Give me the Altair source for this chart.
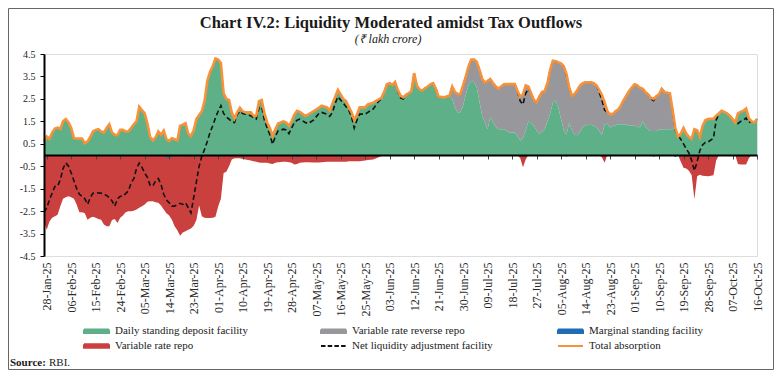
import altair as alt
import pandas as pd

SERIF = "Liberation Serif"

# ---------------- data (₹ lakh crore) ----------------
# day offsets counted from 28-Jan-2025
days_since_28jan = [
    -1, 0, 1, 2, 3, 4, 5, 6, 7, 8,
    9, 10, 11, 12, 13, 14, 15, 16, 17, 18,
    19, 20, 21, 22, 23, 24, 25, 26, 27, 28,
    29, 30, 31, 32, 33, 34, 35, 36, 37, 38,
    39, 40, 41, 42, 43, 44, 45, 46, 47, 48,
    49, 50, 51, 52, 53, 54, 55, 56, 57, 58,
    59, 60, 61, 62, 63, 64, 65, 66, 67, 68,
    69, 70, 71, 72, 73, 75, 76, 77, 78, 79,
    80, 81, 82, 83, 84, 85, 87, 88, 89, 90,
    91, 92, 93, 95, 96, 98, 100, 101, 103, 104,
    105, 106, 107, 108, 109, 110, 111, 112, 113, 114,
    115, 117, 118, 120, 122, 123, 124, 125, 126, 127,
    128, 129, 130, 131, 132, 133, 134, 135, 136, 137,
    138, 139, 140, 141, 142, 143, 144, 146, 148, 149,
    150, 151, 152, 153, 154, 155, 156, 157, 158, 159,
    160, 161, 162, 163, 164, 165, 166, 167, 168, 170,
    172, 173, 174, 175, 176, 177, 178, 179, 180, 181,
    182, 183, 184, 185, 186, 187, 188, 189, 190, 191,
    192, 193, 194, 195, 196, 197, 198, 200, 201, 202,
    203, 204, 205, 206, 207, 208, 209, 210, 211, 212,
    213, 214, 215, 216, 217, 218, 219, 220, 221, 222,
    223, 224, 225, 226, 227, 229, 230, 231, 232, 233,
    234, 235, 236, 237, 238, 239, 240, 241, 242, 243,
    245, 246, 247, 248, 249, 250, 251, 252, 253, 254,
    255, 256, 257, 258, 259, 260, 261,
]

total_absorption = [
    0.60, 0.82, 0.72, 1.00, 1.18, 1.22, 1.15, 1.50, 1.60, 1.45,
    1.20, 0.75, 0.73, 0.73, 0.73, 0.52, 0.60, 0.80, 1.05, 1.12,
    1.15, 1.05, 1.00, 1.20, 1.37, 1.00, 0.90, 0.88, 1.12, 1.12,
    1.05, 1.05, 1.20, 1.37, 1.50, 2.15, 2.00, 1.85, 1.40, 0.80,
    0.65, 0.78, 1.05, 0.90, 1.08, 0.70, 0.63, 0.75, 0.70, 0.65,
    1.30, 1.35, 1.42, 0.95, 0.85, 1.10, 1.60, 1.78, 1.95, 2.40,
    3.30, 3.70, 3.95, 4.30, 4.25, 4.10, 2.75, 2.50, 2.45, 1.90,
    1.62, 1.90, 2.10, 1.95, 1.90, 1.90, 1.75, 1.75, 2.40, 2.45,
    1.85, 1.45, 1.20, 0.85, 1.15, 1.40, 1.50, 1.45, 1.30, 1.50,
    1.80, 1.97, 1.92, 1.75, 1.80, 1.95, 2.10, 2.20, 2.12, 1.98,
    2.30, 2.60, 2.90, 2.70, 2.50, 2.40, 2.15, 1.90, 1.55, 1.80,
    2.12, 2.12, 2.25, 2.33, 2.48, 2.55, 2.80, 3.15, 3.20, 3.12,
    3.25, 2.90, 2.65, 2.57, 2.68, 2.75, 2.85, 3.65, 3.10, 2.92,
    2.87, 2.97, 3.05, 3.15, 3.20, 2.95, 2.60, 2.57, 2.64, 3.05,
    2.80, 2.72, 2.72, 3.10, 3.50, 3.95, 4.25, 4.25, 4.15, 3.80,
    3.40, 3.22, 3.30, 3.38, 3.20, 3.05, 2.95, 3.05, 3.15, 3.16,
    3.16, 2.85, 2.60, 2.70, 3.10, 3.05, 2.75, 2.45, 2.35, 2.60,
    2.80, 2.85, 3.20, 3.80, 4.20, 4.18, 4.12, 4.08, 3.95, 3.60,
    3.00, 2.64, 2.72, 2.90, 3.10, 3.20, 3.24, 3.24, 3.20, 3.10,
    2.90, 2.68, 2.35, 1.95, 1.82, 1.82, 1.95, 2.02, 2.20, 2.45,
    2.64, 2.85, 3.00, 3.15, 3.10, 3.00, 2.95, 2.80, 2.70, 2.55,
    2.50, 2.62, 2.70, 2.95, 2.80, 2.75, 2.00, 1.20, 0.82, 0.95,
    1.20, 0.95, 0.80, 0.72, 1.15, 1.10, 0.80, 1.30, 1.55, 1.60,
    1.62, 1.75, 1.85, 1.97, 1.92, 1.85, 1.75, 1.60, 1.45, 1.85,
    1.92, 1.97, 2.07, 1.65, 1.50, 1.45, 1.60,
]

variable_rate_reverse_repo = [
    0, 0, 0, 0, 0, 0, 0, 0, 0, 0,
    0, 0, 0, 0, 0, 0, 0, 0, 0, 0,
    0, 0, 0, 0, 0, 0, 0, 0, 0, 0,
    0, 0, 0, 0, 0, 0, 0, 0, 0, 0,
    0, 0, 0, 0, 0, 0, 0, 0, 0, 0,
    0, 0, 0, 0, 0, 0, 0, 0, 0, 0,
    0, 0, 0, 0, 0, 0, 0, 0, 0, 0,
    0, 0, 0, 0, 0, 0, 0, 0, 0, 0,
    0, 0, 0, 0, 0, 0, 0, 0, 0, 0,
    0, 0, 0, 0, 0, 0, 0, 0, 0, 0,
    0, 0, 0, 0, 0, 0, 0, 0, 0, 0,
    0, 0, 0, 0, 0, 0, 0, 0, 0, 0,
    0, 0, 0, 0, 0, 0, 0, 0, 0, 0,
    0, 0, 0, 0, 0, 0, 0, 0, 0, 0.55,
    0.70, 0.82, 0.82, 0.90, 0.80, 0.85, 0.95, 1.01, 1.13, 1.40,
    1.65, 1.77, 2.15, 1.68, 1.75, 1.80, 1.80, 1.90, 2.00, 2.16,
    2.16, 2.00, 1.95, 1.95, 2.00, 1.55, 1.35, 1.15, 1.25, 1.67,
    1.75, 1.70, 1.70, 1.95, 1.86, 1.76, 2.02, 2.48, 2.85, 2.70,
    1.55, 1.54, 1.82, 2.02, 2.05, 1.95, 1.92, 1.89, 1.90, 1.85,
    1.83, 1.80, 1.00, 0.55, 0.60, 0.54, 0.63, 0.65, 0.83, 1.08,
    1.29, 1.55, 1.70, 1.85, 1.83, 1.78, 1.45, 1.55, 1.55, 1.48,
    1.43, 1.55, 1.58, 1.80, 1.65, 1.60, 0.85, 0, 0, 0,
    0, 0, 0, 0, 0, 0, 0, 0, 0, 0,
    0, 0, 0, 0, 0, 0, 0, 0, 0, 0,
    0, 0, 0, 0, 0, 0, 0,
]

variable_rate_repo = [
    -3.00, -3.33, -2.96, -2.80, -2.73, -2.66, -2.28, -1.95, -1.88, -1.84,
    -1.88, -1.95, -2.20, -2.55, -2.55, -2.60, -2.88, -2.80, -2.75, -2.80,
    -2.85, -2.88, -3.10, -3.18, -3.18, -2.90, -2.85, -3.03, -2.80, -2.70,
    -2.55, -2.51, -2.51, -2.48, -2.43, -2.35, -2.28, -2.20, -2.08, -2.06,
    -2.06, -2.10, -2.13, -2.25, -2.43, -2.60, -2.70, -2.88, -3.18, -3.35,
    -3.60, -3.45, -3.40, -3.33, -3.28, -3.15, -2.90, -2.25, -2.73, -2.80,
    -2.81, -2.81, -2.80, -2.75, -2.30, -1.95, -0.80, -0.75, -0.50, -0.20,
    -0.15, -0.15, -0.15, -0.18, -0.20, -0.25, -0.28, -0.30, -0.33, -0.35,
    -0.35, -0.35, -0.38, -0.40, -0.35, -0.32, -0.30, -0.30, -0.32, -0.35,
    -0.42, -0.40, -0.35, -0.32, -0.32, -0.33, -0.33, -0.32, -0.30, -0.30,
    -0.30, -0.30, -0.30, -0.30, -0.30, -0.30, -0.28, -0.28, -0.28, -0.28,
    -0.28, -0.25, -0.22, -0.20, -0.10, -0.05, 0, 0, 0, 0,
    0, 0, 0, 0, 0, 0, 0, 0, 0, 0,
    0, 0, 0, 0, 0, 0, 0, 0, 0, 0,
    0, 0, 0, 0, 0, 0, 0, 0, 0, 0,
    0, 0, 0, 0, 0, 0, 0, 0, 0, 0,
    0, 0, -0.15, -0.55, -0.20, 0, 0, 0, 0, 0,
    0, 0, 0, 0, 0, 0, 0, 0, 0, 0,
    0, 0, 0, 0, 0, 0, 0, 0, 0, 0,
    0, -0.10, -0.35, 0, 0, 0, 0, 0, 0, 0,
    0, 0, 0, 0, 0, 0, 0, 0, 0, 0,
    0, 0, 0, 0, 0, 0, 0, 0, 0, -0.30,
    -0.57, -0.60, -0.70, -0.90, -1.97, -0.95, -0.88, -0.92, -0.94, -0.95,
    -0.90, -0.25, 0, 0, 0, 0, 0, 0, 0, -0.40,
    -0.42, -0.42, -0.42, -0.15, 0, 0, 0,
]

marginal_standing_facility = [
    0, 0, 0, 0, 0, 0, 0, 0, 0, -0.04,
    -0.05, -0.05, 0, 0, 0, 0, 0, 0, 0, 0,
    0, 0, 0, 0, 0, 0, 0, 0, 0, 0,
    0, 0, 0, 0, 0, 0, 0, 0, 0, 0,
    0, 0, 0, 0, 0, -0.10, -0.12, -0.08, 0, 0,
    0, 0, 0, -0.08, 0, 0, 0, 0, 0, 0,
    0, 0, 0, 0, 0, 0, 0, 0, 0, 0,
    0, 0, 0, 0, 0, 0, 0, 0, 0, 0,
    0, 0, 0, 0, 0, 0, 0, 0, 0, 0,
    0, -0.12, 0, 0, 0, 0, 0, 0, 0, 0,
    0, 0, 0, 0, 0, 0, 0, 0, 0, 0,
    0, 0, 0, 0, 0, 0, 0, 0, 0, 0,
    0, 0, 0, 0, 0, 0, 0, 0, 0, 0,
    0, 0, 0, 0, 0, 0, 0, 0, 0, 0,
    0, 0, 0, 0, 0, 0, 0, 0, 0, 0,
    0, 0, 0, 0, 0, 0, 0, 0, 0, 0,
    0, 0, 0, -0.10, 0, 0, 0, 0, 0, 0,
    0, 0, 0, 0, 0, 0, 0, 0, 0, -0.08,
    0, 0, 0, 0, 0, 0, 0, 0, 0, 0,
    0, 0, 0, 0, 0, 0, 0, 0, 0, 0,
    0, 0, 0, 0, 0, 0, 0, 0, 0, 0,
    -0.08, 0, 0, 0, 0, 0, 0, -0.10, 0, 0,
    0, 0, 0, 0, 0, 0, 0, 0, 0, 0,
    0, 0, 0, 0, 0, 0, 0, 0, 0, -0.08,
    0, 0, 0, -0.08, 0, 0, 0,
]

net_liquidity_adjustment_facility = [
    -2.55, -2.36, -2.00, -1.69, -1.40, -1.39, -1.10, -0.60, -0.35, -0.50,
    -0.80, -1.15, -1.50, -1.75, -1.84, -1.95, -2.20, -1.90, -1.70, -1.68,
    -1.69, -1.70, -1.75, -1.80, -1.90, -2.05, -2.28, -1.95, -1.84, -1.84,
    -1.72, -1.60, -1.25, -1.05, -0.60, -0.36, -0.55, -0.80, -1.00, -1.35,
    -1.39, -1.15, -1.05, -1.31, -1.75, -2.00, -2.13, -2.28, -2.28, -2.20,
    -2.15, -2.20, -2.13, -2.35, -2.58, -1.90, -1.20, -0.50, -0.05, 0.25,
    0.60, 1.00, 1.30, 1.65, 1.95, 2.20, 1.85, 1.70, 1.60, 1.48,
    1.45, 1.80, 1.95, 1.85, 1.82, 1.75, 1.67, 1.60, 2.10, 2.15,
    1.55, 1.20, 0.90, 0.48, 0.82, 1.07, 1.15, 1.12, 0.95, 1.20,
    1.45, 1.55, 1.60, 1.45, 1.40, 1.55, 1.85, 1.90, 1.82, 1.72,
    1.90, 2.30, 2.60, 2.45, 2.30, 2.15, 2.00, 1.70, 1.20, 1.55,
    1.82, 1.82, 1.90, 2.05, 2.40, 2.50, 2.80, 3.15, 3.20, 3.12,
    3.25, 2.85, 2.55, 2.50, 2.68, 2.75, 2.85, 3.65, 3.10, 2.92,
    2.87, 2.97, 3.05, 3.15, 3.20, 2.95, 2.60, 2.57, 2.64, 3.05,
    2.80, 2.72, 2.72, 3.10, 3.50, 3.95, 4.25, 4.25, 4.15, 3.80,
    3.40, 3.22, 3.30, 3.38, 3.20, 3.05, 2.95, 3.05, 3.15, 3.16,
    3.16, 2.85, 2.40, 2.25, 2.75, 2.95, 2.75, 2.45, 2.35, 2.60,
    2.80, 2.85, 3.20, 3.80, 4.20, 4.18, 4.12, 4.08, 3.95, 3.52,
    3.00, 2.64, 2.72, 2.90, 3.10, 3.20, 3.24, 3.24, 3.20, 3.10,
    2.80, 2.45, 2.00, 1.90, 1.82, 1.82, 1.95, 2.02, 2.20, 2.45,
    2.64, 2.85, 3.00, 3.15, 3.10, 3.00, 2.95, 2.80, 2.70, 2.50,
    2.42, 2.62, 2.70, 2.95, 2.80, 2.75, 2.00, 1.10, 0.85, 0.70,
    0.50, 0.28, 0.08, -0.25, -0.70, -0.30, 0.20, 0.45, 0.56, 0.58,
    0.75, 1.55, 1.85, 1.97, 1.92, 1.85, 1.75, 1.60, 1.45, 1.40,
    1.50, 1.55, 1.65, 1.45, 1.50, 1.45, 1.60,
]

tick_labels = [
    "28-Jan-25", "06-Feb-25", "15-Feb-25", "24-Feb-25", "05-Mar-25", "14-Mar-25",
    "23-Mar-25", "01-Apr-25", "10-Apr-25", "19-Apr-25", "28-Apr-25", "07-May-25",
    "16-May-25", "25-May-25", "03-Jun-25", "12-Jun-25", "21-Jun-25", "30-Jun-25",
    "09-Jul-25", "18-Jul-25", "27-Jul-25", "05-Aug-25", "14-Aug-25", "23-Aug-25",
    "01-Sep-25", "10-Sep-25", "19-Sep-25", "28-Sep-25", "07-Oct-25", "16-Oct-25",
]
y_ticks = [-4.5, -3.5, -2.5, -1.5, -0.5, 0.5, 1.5, 2.5, 3.5, 4.5]

# legend order is column by column (2 rows x 3 columns)
legend_names = [
    "Daily standing deposit facility", "Variable rate repo",
    "Variable rate reverse repo", "Net liquidity adjustment facility",
    "Marginal standing facility", "Total absorption",
]

title_text = "Chart IV.2: Liquidity Moderated amidst Tax Outflows"
subtitle_text = "(\u20b9 lakh crore)"
source_label = "Source:"
source_text = "RBI."

# ---------------- colours ----------------
GREEN = "#5db087"
GREY = "#98989c"
BLUE = "#1f6db5"
RED = "#c9403f"
BLACK = "#111111"
ORANGE = "#f7923a"

n = len(days_since_28jan)
for arr in (total_absorption, variable_rate_reverse_repo, variable_rate_repo,
            marginal_standing_facility, net_liquidity_adjustment_facility):
    assert len(arr) == n, len(arr)

start = pd.Timestamp("2025-01-28")
df = pd.DataFrame({
    "date": [(start + pd.Timedelta(days=d)).strftime("%Y-%m-%d") for d in days_since_28jan],
    "total": total_absorption,
    "vrrr": variable_rate_reverse_repo,
    "vrr": variable_rate_repo,
    "msf": marginal_standing_facility,
    "net": net_liquidity_adjustment_facility,
})

tick_dates = [pd.to_datetime(s, format="%d-%b-%y") for s in tick_labels]
tick_values = [alt.DateTime(year=t.year, month=t.month, date=t.day, utc=True) for t in tick_dates]

W, H = 713, 202
PAD = {"left": 36, "top": 46, "right": 17, "bottom": 114}

xscale = alt.Scale(type="utc", domain=[alt.DateTime(year=2025, month=1, date=27, utc=True),
                                      alt.DateTime(year=2025, month=10, date=16, utc=True)])
yscale = alt.Scale(domain=[-4.5, 4.5], nice=False, zero=False)

yaxis = alt.Axis(values=y_ticks, labelExpr="replace(format(datum.value, '.1f'), '\u2212', '-')",
                 domainColor="black", domainWidth=2, tickColor="black", tickSize=4, tickWidth=1,
                 labelFont=SERIF, labelFontSize=10, labelColor="#222222", labelPadding=5,
                 grid=False, title=None, zindex=1)

xaxis_labels = alt.Axis(values=tick_values, format="%d-%b-%y", labelAngle=270, labelFont=SERIF,
                        labelFontSize=12, labelColor="#2a2a2a", domain=False, ticks=False,
                        labelPadding=6, grid=False, title=None, labelOverlap=False)

xaxis_zero = alt.Axis(values=tick_values, orient="bottom", offset=-H / 2, labels=False,
                      domain=True, domainColor="black", domainWidth=2, ticks=True, tickSize=4,
                      tickColor="#444444", tickWidth=1, grid=False, title=None, zindex=1)

base = alt.Chart(df).transform_calculate(sdf="datum.total - datum.vrrr")

grey = base.mark_area(color=GREY, interpolate="linear").encode(
    x=alt.X("date:T", scale=xscale, axis=xaxis_labels),
    y=alt.Y("total:Q", scale=yscale, axis=yaxis),
    y2="sdf:Q",
)
green = base.mark_area(color=GREEN, interpolate="linear").encode(
    x=alt.X("date:T", scale=xscale, axis=None),
    y=alt.Y("sdf:Q", scale=yscale, axis=yaxis),
    y2=alt.datum(0),
)
red = base.mark_area(color=RED, interpolate="linear").encode(
    x=alt.X("date:T", scale=xscale, axis=None),
    y=alt.Y("vrr:Q", scale=yscale, axis=yaxis),
    y2=alt.datum(0),
)
blue = base.mark_area(color=BLUE, interpolate="linear").encode(
    x=alt.X("date:T", scale=xscale, axis=None),
    y=alt.Y("msf:Q", scale=yscale, axis=yaxis),
    y2=alt.datum(0),
)
net = base.mark_line(color=BLACK, strokeWidth=1.6, strokeDash=[5, 3]).encode(
    x=alt.X("date:T", scale=xscale, axis=xaxis_zero),
    y=alt.Y("net:Q", scale=yscale, axis=yaxis),
)
total = base.mark_line(color=ORANGE, strokeWidth=2.6).encode(
    x=alt.X("date:T", scale=xscale, axis=None),
    y=alt.Y("total:Q", scale=yscale, axis=yaxis),
)

# ---------------- legend ----------------
RECT = "M-2.5,-0.35L2.5,-0.35L2.5,0.35L-2.5,0.35Z"
LINE = "M-2.5,0L2.5,0"
leg = alt.Legend(orient="none", legendX=46.5, legendY=271, columns=3, columnPadding=60,
                 rowPadding=3, gridAlign="all", title=None, padding=0, labelFont=SERIF,
                 labelFontSize=11, labelColor="#222222", labelOffset=12.5, symbolSize=100,
                 symbolStrokeWidth=2, labelLimit=300)
legend_layer = alt.Chart(pd.DataFrame({"series": legend_names})).transform_filter("false").mark_point(
    filled=True, opacity=1
).encode(
    fill=alt.Fill("series:N", legend=leg, scale=alt.Scale(
        domain=legend_names, range=[GREEN, RED, GREY, "transparent", BLUE, "transparent"])),
    stroke=alt.Stroke("series:N", legend=leg, scale=alt.Scale(
        domain=legend_names, range=[GREEN, RED, GREY, BLACK, BLUE, ORANGE])),
    shape=alt.Shape("series:N", legend=leg, scale=alt.Scale(
        domain=legend_names, range=[RECT, RECT, RECT, LINE, RECT, LINE])),
    strokeDash=alt.StrokeDash("series:N", legend=leg, scale=alt.Scale(
        domain=legend_names, range=[[1, 0], [1, 0], [1, 0], [4.5, 2.2], [1, 0], [1, 0]])),
)

# ---------------- title, source note & frame ----------------
def text_layer(txt, x, y, size, weight="normal", style="normal", align="left"):
    return alt.Chart(pd.DataFrame({"t": [txt]})).mark_text(
        font=SERIF, fontSize=size, fontWeight=weight, fontStyle=style, align=align,
        baseline="middle", color="#1a1a1a"
    ).encode(text="t:N", x=alt.value(x), y=alt.value(y))

title_layer = text_layer(title_text, 347, -31, 16.5, weight="bold", align="center")
subtitle_layer = text_layer(subtitle_text, 344, -15, 12, style="italic", align="center")
src_a = text_layer(source_label, -34, 309, 11, weight="bold")
src_b = text_layer(source_text, 5, 309, 11)

frame = alt.Chart(pd.DataFrame({"a": [0]})).mark_rect(
    filled=False, stroke="#666666", strokeWidth=1
).encode(x=alt.value(-35.5), x2=alt.value(729.5), y=alt.value(-45.5), y2=alt.value(315.5))

chart = alt.layer(
    frame, grey, green, red, blue, net, total, legend_layer,
    title_layer, subtitle_layer, src_a, src_b
).resolve_axis(x="independent").properties(
    width=W, height=H, padding=PAD, autosize=alt.AutoSizeParams(type="none"),
).configure_view(strokeWidth=0).configure(background="white")

chart.save("out.html", embed_options={"renderer": "svg", "actions": False})
